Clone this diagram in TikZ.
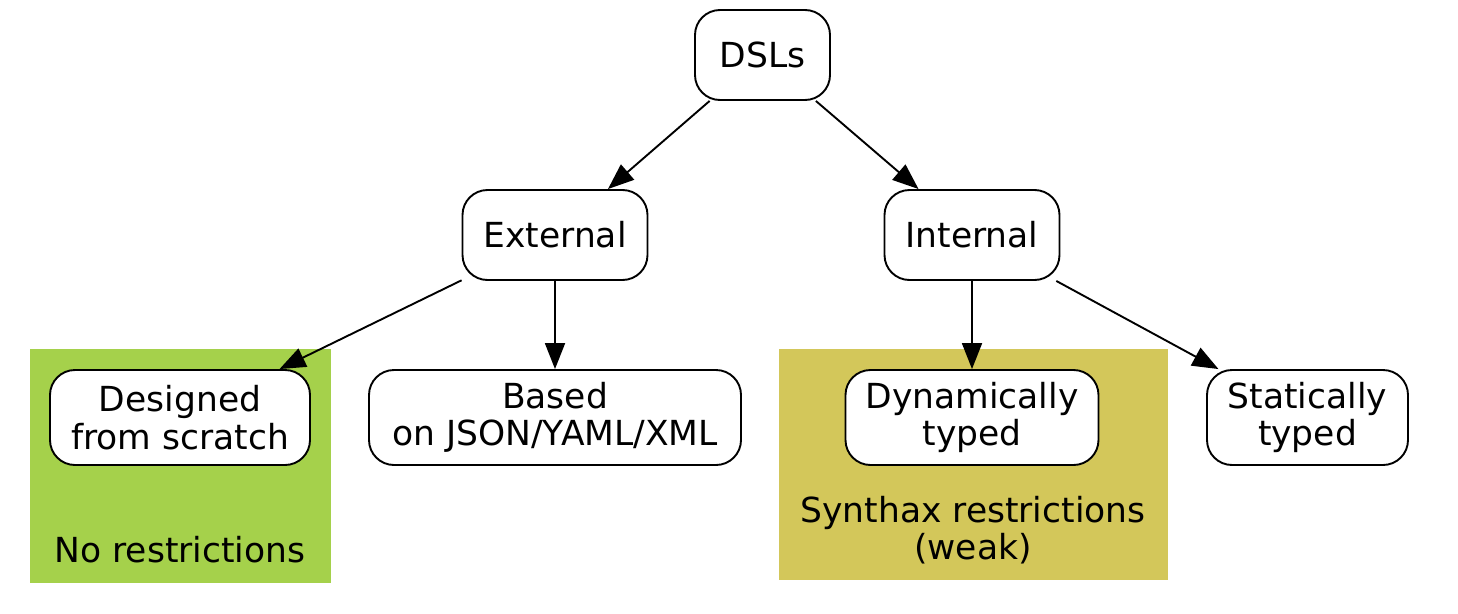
\documentclass[tikz,border=0pt]{standalone}
\usepackage{fontspec}
\setmainfont{DejaVu Sans}
\usetikzlibrary{arrows.meta}
\definecolor{greenclus}{HTML}{A5D14B}
\definecolor{oliveclus}{HTML}{D3C75A}
\tikzset{
  box/.style={draw=black, line width=1.9pt, fill=white, rounded corners=25pt,
    align=center, inner sep=0pt, font=\fontsize{34.5}{37.5}\selectfont},
  clabel/.style={align=center, inner sep=0pt, font=\fontsize{34.5}{37.5}\selectfont},
  edge/.style={line width=1.9pt, -{Triangle[length=26pt,width=20pt]}},
}
\begin{document}
\begin{tikzpicture}[x={(1pt,0)}, y={(0,-1pt)}]
\useasboundingbox (0,0) rectangle (1458,613);
% clusters
\fill[greenclus] (30,349) rectangle (331,583);
\fill[oliveclus] (779,349) rectangle (1168,580);
\node[clabel] (lg) at (180,550) {No restrictions};
\node[clabel] (lo) at (973,530) {Synthax restrictions\\(weak)};
% nodes
\node[box, minimum width=135pt, minimum height=90pt] (dsl) at (762.5,55) {DSLs};
\node[box, minimum width=185pt, minimum height=90pt] (ext) at (555,235) {External};
\node[box, minimum width=175pt, minimum height=90pt] (int) at (972,235) {Internal};
\node[box, minimum width=260pt, minimum height=95pt] (des) at (180,417.5) {Designed\\from scratch};
\node[box, minimum width=372pt, minimum height=95pt] (bas) at (555,417.5) {Based\\on JSON/YAML/XML};
\node[box, minimum width=253pt, minimum height=95pt] (dyn) at (972,417.5) {Dynamically\\typed};
\node[box, minimum width=201pt, minimum height=95pt] (sta) at (1307.5,417.5) {Statically\\typed};
% edges
\draw[edge] (dsl) -- (ext);
\draw[edge] (dsl) -- (int);
\draw[edge] (ext) -- (des);
\draw[edge] (ext) -- (bas);
\draw[edge] (int) -- (dyn);
\draw[edge] (int) -- (sta);
\end{tikzpicture}
\end{document}
